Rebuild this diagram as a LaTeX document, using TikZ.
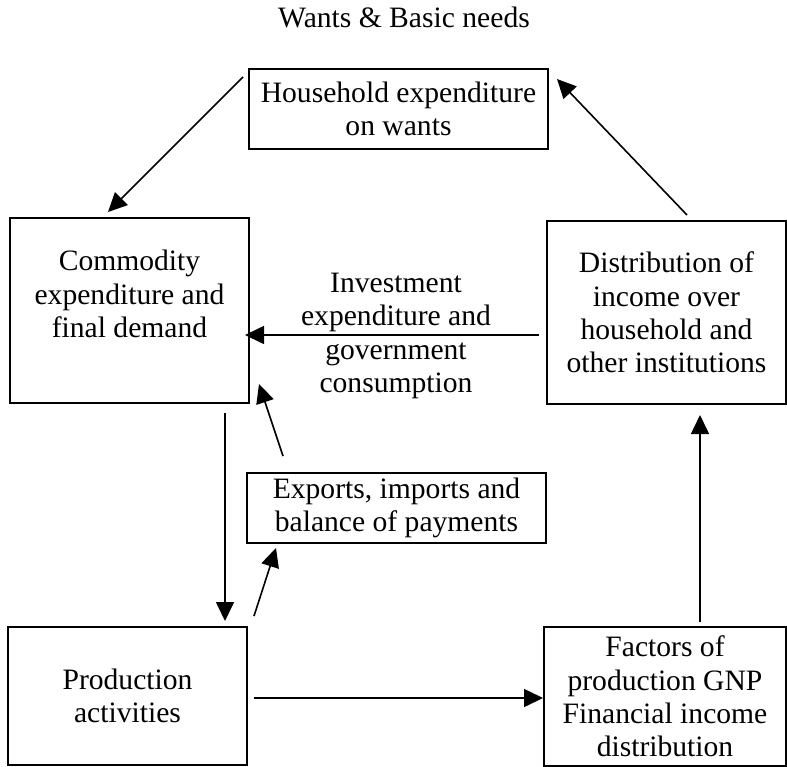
\documentclass[tikz,border=0pt]{standalone}
\usepackage{fontspec}
\setmainfont{Liberation Serif}
\usetikzlibrary{arrows.meta,positioning}

\tikzset{
  box/.style={draw=black, line width=1pt, align=center, inner sep=0pt},
  flow/.style={black, line width=0.8pt, -{Triangle[length=9.5pt,width=9pt]}}
}

\begin{document}
\begin{tikzpicture}[x=0.5pt,y=-0.5pt]
\tikzstyle{every node}+=[font=\fontsize{14.8pt}{16.7pt}\selectfont]
\useasboundingbox (0,0) rectangle (787,766);
\node [anchor=base] (title) at (404,27) {Wants \& Basic needs};
\node [box, minimum width=149.5pt, minimum height=40pt] (hh) at (398.5,109) {Household expenditure\\on wants};
\node [box, minimum width=119.5pt, minimum height=92.5pt] (com) at (129.5,310.5) {Commodity\\expenditure and\\final demand\\\mbox{}};
\node [box, minimum width=119.5pt, minimum height=91.5pt] (dist) at (666.5,312.5) {Distribution of\\income over\\household and\\other institutions};
\node [align=center] (inv) at (396,336) {Investment\\expenditure and\\government\\consumption};
\node [box, minimum width=149.5pt, minimum height=35pt] (exp) at (396.5,508) {Exports, imports and\\balance of payments};
\node [box, minimum width=119.5pt, minimum height=69pt] (prod) at (127.5,696) {Production\\activities};
\node [box, minimum width=121pt, minimum height=69.5pt] (fac) at (665,696.5) {Factors of\\production GNP\\Financial income\\distribution};
% connectors
\draw [flow] ([shift={(-5,9)}]hh.north west) -- ([shift={(-21.5,-5)}]com.north);
\draw [flow] ([shift={(20.5,-5)}]dist.north) -- ([shift={(8,11)}]hh.north east);
\draw [flow] ([shift={(-7,22.5)}]dist.west) -- ([shift={(-5,24.5)}]com.east);
\draw [flow] ([shift={(95.5,9)}]com.south) -- ([shift={(97.5,-5)}]prod.north);
\draw [flow] ([shift={(37,-16)}]exp.north west) -- ([shift={(9,-20)}]com.south east);
\draw [flow] ([shift={(6,-10)}]prod.north east) -- ([shift={(30,4)}]exp.south west);
\draw [flow] ([shift={(6,2)}]prod.east) -- ([shift={(0,1.5)}]fac.west);
\draw [flow] ([shift={(35,-4)}]fac.north) -- ([shift={(33.5,10)}]dist.south);
\end{tikzpicture}
\end{document}
